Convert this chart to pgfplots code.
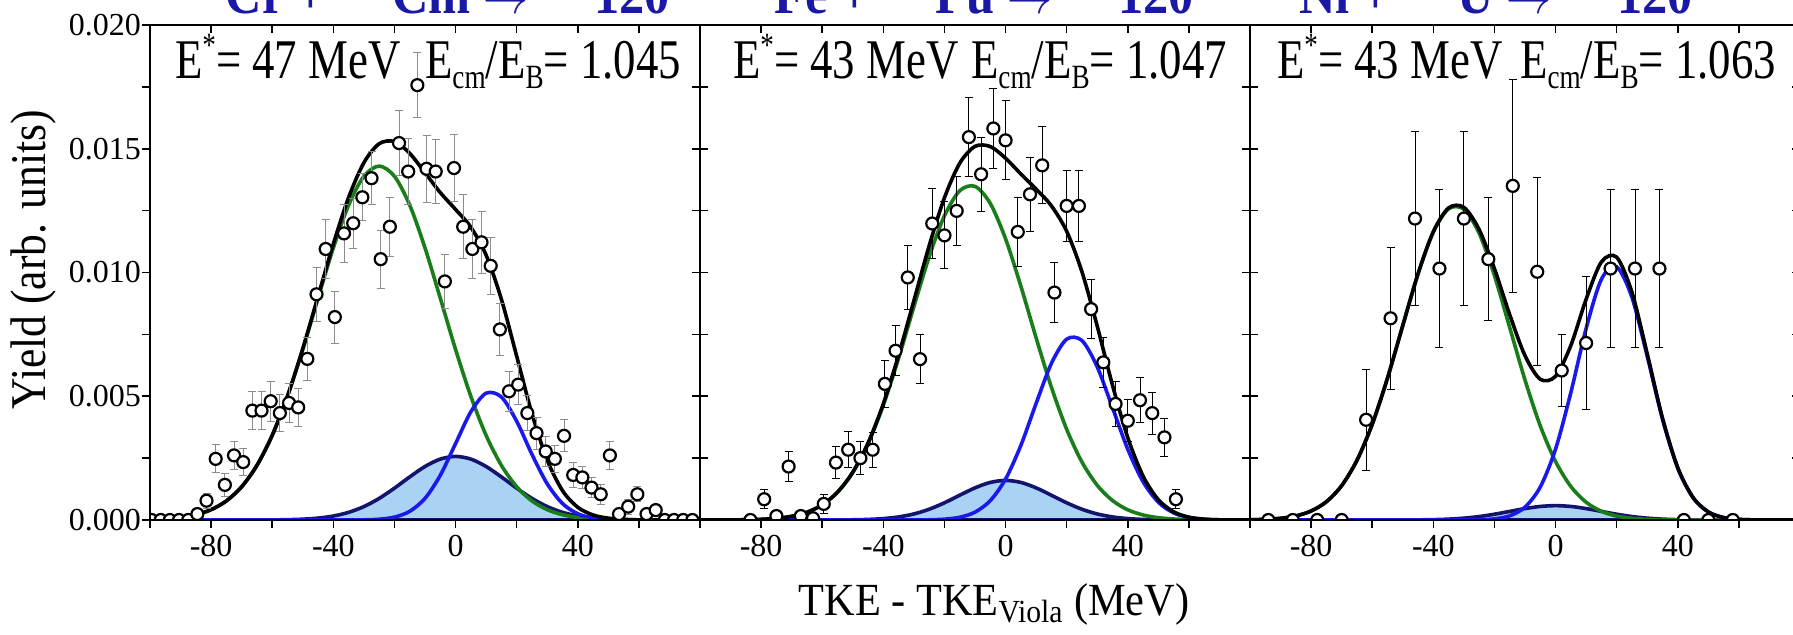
\documentclass[border=0pt]{standalone}
\usepackage{fontspec}
\setmainfont{Liberation Serif}
\usepackage{graphicx}
\usepackage{pgfplots}
\pgfplotsset{compat=1.18}
\definecolor{cgreen}{RGB}{25,125,25}
\definecolor{cblue}{RGB}{25,25,235}
\definecolor{cnavy}{RGB}{20,20,110}
\definecolor{cfill}{RGB}{170,210,245}
\definecolor{ctitle}{RGB}{25,25,165}
\newcommand{\sq}[1]{\scalebox{0.8}[1]{#1}}
\newcommand{\sqt}[1]{\scalebox{0.9}[1]{#1}}
\newcommand{\sbs}[1]{\raisebox{-5pt}{\fontsize{17pt}{17pt}\selectfont #1}}
\newcommand{\sps}[1]{\raisebox{11pt}{\fontsize{17pt}{17pt}\selectfont #1}}
\pgfplotsset{
  base/.style={width=275pt,height=247.5pt,scale only axis,xmin=-100,xmax=80,ymin=0,ymax=0.02,
    axis line style={line width=1pt},
    xtick={-80,-40,0,40}, minor xtick={-100,-60,-20,20,60},
    ytick={0,0.005,0.01,0.015,0.02}, minor ytick={0.0025,0.0075,0.0125,0.0175},
    major tick length=4pt, minor tick length=4pt,
    every tick/.style={black, line width=0.8pt},
    scaled y ticks=false, anchor=south west,
    tick label style={font=\fontsize{16pt}{19pt}\selectfont},
  },
  main/.style={base, tick align=outside, xtick pos=left, xticklabels={-80,-40,0,40}, clip marker paths=true,
    yticklabel style={xshift=3pt}},
  over/.style={base, tick align=inside, xtick pos=right, xticklabels={}, yticklabels={},
    tick label style={opacity=0, text opacity=0}},
  dat/.style={only marks, mark=*, mark size=3pt, mark options={fill=white, draw=black, line width=1.1pt},
     error bars/.cd, y dir=both, y explicit, error bar style={line width=0.5pt,#1},
     error mark options={rotate=90, mark size=2pt, line width=0.5pt, #1}},
  cur/.style={smooth, line width=1.8pt, #1},
}
\tikzset{ann/.style={font=\fontsize{28pt}{31pt}\selectfont},
  ttl/.style={anchor=base east, text=ctitle, font=\bfseries\fontsize{28pt}{31pt}\selectfont}}
\begin{document}
\begin{tikzpicture}
\useasboundingbox (0,0) rectangle (896.5pt,317pt);
% ---------------- panel 1
\begin{axis}[main, at={(75pt,57pt)}, ytick pos=left, yticklabels={0.000,0.005,0.010,0.015,0.020}]
\addplot[cur=cnavy, fill=cfill] coordinates {(-100,0) (-65,0.000002) (-60,0.000005) (-55,0.000014) (-50,0.000034) (-45,0.000077) (-40,0.000161) (-35,0.000309) (-30,0.000542) (-25,0.000872) (-20,0.001287) (-15,0.001741) (-10,0.002162) (-5,0.002461) (0,0.00257) (5,0.002461) (10,0.002162) (15,0.001741) (20,0.001287) (25,0.000872) (30,0.000542) (35,0.000309) (40,0.000161) (45,0.000077) (50,0.000034) (55,0.000014) (60,0.000005) (65,0.000002) (80,0)} \closedcycle;
\addplot[cur=cgreen] coordinates {(-100,0.00002) (-95,0.000047) (-90,0.000102) (-85,0.000213) (-80,0.000418) (-75,0.000771) (-70,0.001343) (-65,0.002207) (-60,0.003418) (-55,0.004998) (-50,0.006891) (-45,0.008963) (-40,0.010995) (-35,0.012724) (-30,0.013888) (-25,0.0143) (-20,0.013888) (-15,0.012724) (-10,0.010995) (-5,0.008963) (0,0.006891) (5,0.004998) (10,0.003418) (15,0.002207) (20,0.001343) (25,0.000771) (30,0.000418) (35,0.000213) (40,0.000102) (45,0.000047) (50,0.00002) (55,0.000008) (60,0) (80,0)};
\addplot[cur=cblue] coordinates {(-100,0) (-40,0) (-35,0.000001) (-30,0.000007) (-25,0.000032) (-20,0.000116) (-15,0.00035) (-10,0.000873) (-5,0.001805) (0,0.003087) (5,0.004372) (10,0.005124) (15,0.004971) (20,0.003992) (25,0.002654) (30,0.001461) (35,0.000665) (40,0.000251) (45,0.000078) (50,0.00002) (55,0.000004) (60,0) (80,0)};
\addplot[cur=black] coordinates {(-100,0.00002) (-95,0.000047) (-90,0.000102) (-85,0.000213) (-80,0.000418) (-75,0.000771) (-70,0.001343) (-65,0.002209) (-60,0.003423) (-55,0.005012) (-50,0.006925) (-45,0.00904) (-40,0.011156) (-35,0.013033) (-30,0.014437) (-25,0.015204) (-20,0.015291) (-15,0.014815) (-10,0.01403) (-5,0.013229) (0,0.012548) (5,0.011831) (10,0.010704) (15,0.008919) (20,0.006622) (25,0.004297) (30,0.002421) (35,0.001187) (40,0.000514) (45,0.000202) (50,0.000074) (55,0.000026) (60,0.000006) (65,0) (80,0)};
\addplot[dat=black!45] table[x=x,y=y,y error=e] {
x y e
-99.5 0 0
-96.5 0 0
-93.5 0 0
-90.5 0 0
-87.5 0 0
-84.5 0.00024 0.0002
-81.5 0.00078 0.0003
-78.5 0.00247 0.00057
-75.5 0.00142 0.00045
-72.5 0.00261 0.00057
-69.5 0.00234 0.00055
-66.5 0.00442 0.00076
-63.5 0.00442 0.00076
-60.5 0.0048 0.0008
-57.5 0.00432 0.00075
-54.5 0.00473 0.0008
-51.5 0.00455 0.00078
-48.5 0.00651 0.00088
-45.5 0.00912 0.00108
-42.5 0.01095 0.0012
-39.5 0.0082 0.00105
-36.5 0.01158 0.00116
-33.5 0.01199 0.001
-30.5 0.01304 0.00095
-27.5 0.01381 0.00108
-24.5 0.01054 0.00117
-21.5 0.01185 0.0012
-18.5 0.01523 0.0013
-15.5 0.01408 0.00135
-12.5 0.01757 0.0013
-9.5 0.01419 0.00135
-6.5 0.01408 0.0013
-3.5 0.00964 0.0011
-0.5 0.01422 0.00135
2.5 0.01185 0.0013
5.5 0.01095 0.0012
8.5 0.01122 0.00125
11.5 0.01027 0.00115
14.5 0.0077 0.00105
17.5 0.0052 0.0008
20.5 0.00547 0.0008
23.5 0.00432 0.0007
26.5 0.00351 0.00065
29.5 0.00277 0.0006
32.5 0.00247 0.00055
35.5 0.0034 0.00065
38.5 0.00182 0.0005
41.5 0.00172 0.00045
44.5 0.00131 0.0004
47.5 0.00104 0.0004
50.5 0.00261 0.00057
53.5 0.00024 0.0002
56.5 0.00054 0.0003
59.5 0.00104 0.0003
62.5 0.00024 0.0002
65.5 0.0004 0.0002
68.5 0 0
71.5 0 0
74.5 0 0
77.5 0 0
};
\end{axis}
\begin{axis}[over, at={(75pt,57pt)}, ytick pos=right]
\end{axis}
% ---------------- panel 2
\begin{axis}[main, at={(350pt,57pt)}, ymajorticks=false, yminorticks=false]
\addplot[cur=cnavy, fill=cfill] coordinates {(-100,0) (-60,0) (-55,0.000003) (-50,0.000009) (-45,0.000024) (-40,0.000057) (-35,0.000125) (-30,0.000245) (-25,0.000435) (-20,0.000695) (-15,0.001001) (-10,0.001299) (-5,0.001519) (0,0.0016) (5,0.001519) (10,0.001299) (15,0.001001) (20,0.000695) (25,0.000435) (30,0.000245) (35,0.000125) (40,0.000057) (45,0.000024) (50,0.000009) (55,0.000003) (60,0) (80,0)} \closedcycle;
\addplot[cur=cgreen] coordinates {(-100,0) (-95,0.000001) (-90,0.000004) (-85,0.000011) (-80,0.000028) (-75,0.000067) (-70,0.00015) (-65,0.000313) (-60,0.000612) (-55,0.001121) (-50,0.001923) (-45,0.003088) (-40,0.004643) (-35,0.006538) (-30,0.008618) (-25,0.010638) (-20,0.012294) (-15,0.013304) (-10,0.01348) (-5,0.012789) (0,0.011361) (5,0.009449) (10,0.007359) (15,0.005366) (20,0.003664) (25,0.002343) (30,0.001402) (35,0.000786) (40,0.000412) (45,0.000203) (50,0.000093) (55,0.00004) (60,0.000016) (65,0.000006) (70,0) (80,0)};
\addplot[cur=cblue] coordinates {(-100,0) (-40,0) (-30,0.000002) (-25,0.0000085) (-20,0.000033) (-15,0.000111) (-10,0.000317) (-5,0.000782) (0,0.001656) (5,0.003012) (10,0.00471) (15,0.006327) (20,0.007307) (25,0.007252) (30,0.006185) (35,0.004534) (40,0.002857) (45,0.001546) (50,0.000719) (55,0.000288) (60,0.000099) (65,0.000029) (70,0.000007) (75,0) (80,0)};
\addplot[cur=black] coordinates {(-100,0) (-95,0.000001) (-90,0.000004) (-85,0.000011) (-80,0.000028) (-75,0.000067) (-70,0.00015) (-65,0.000313) (-60,0.000612) (-55,0.001124) (-50,0.001932) (-45,0.003112) (-40,0.0047) (-35,0.006663) (-30,0.008865) (-25,0.011082) (-20,0.013022) (-15,0.014416) (-10,0.015096) (-5,0.01509) (0,0.014617) (5,0.01398) (10,0.013368) (15,0.012694) (20,0.011666) (25,0.01003) (30,0.007832) (35,0.005445) (40,0.003326) (45,0.001773) (50,0.000821) (55,0.000331) (60,0.000115) (65,0.000035) (70,0.000007) (75,0) (80,0)};
\addplot[dat=black] table[x=x,y=y,y error=e] {
x y e
-83.5 0 0
-79 0.00084 0.00038
-75 0.00016 0.0002
-71 0.00216 0.00062
-67 0.00016 0.0002
-63 0.00007 0.0001
-59.5 0.00065 0.00037
-55.5 0.00232 0.00063
-51.5 0.00284 0.00072
-47.5 0.0025 0.00068
-43.5 0.00284 0.0007
-39.5 0.0055 0.00095
-36 0.00684 0.001
-32 0.0098 0.0013
-28 0.0065 0.001
-24 0.01198 0.0014
-20 0.0115 0.00135
-16 0.01249 0.0014
-12 0.01547 0.0016
-8 0.01397 0.0015
-4 0.01582 0.0016
0 0.01534 0.0016
4 0.01164 0.0014
8 0.01316 0.0015
12 0.01433 0.00155
16 0.00919 0.00123
20 0.01269 0.00145
24 0.01269 0.00145
28 0.00852 0.0012
32 0.00637 0.001
36 0.00469 0.00092
40 0.00401 0.00085
44 0.00484 0.00092
48 0.00432 0.00085
52 0.00334 0.00076
55.75 0.00084 0.00038
};
\end{axis}
\begin{axis}[over, at={(350pt,57pt)}, ytick pos=both]
\end{axis}
% ---------------- panel 3
\begin{axis}[main, at={(625pt,57pt)}, ymajorticks=false, yminorticks=false]
\addplot[cur=cnavy, fill=cfill] coordinates {(-100,0) (-50,0) (-45,0.000006) (-40,0.000015) (-35,0.000036) (-30,0.000075) (-25,0.00014) (-20,0.000234) (-15,0.000348) (-10,0.000462) (-5,0.000548) (0,0.00058) (5,0.000548) (10,0.000462) (15,0.000348) (20,0.000234) (25,0.00014) (30,0.000075) (35,0.000036) (40,0.000015) (45,0.000006) (50,0) (80,0)} \closedcycle;
\addplot[cur=cgreen] coordinates {(-100,0.0000095) (-95,0.000027) (-90,0.000069) (-85,0.000165) (-80,0.000363) (-75,0.000738) (-70,0.001388) (-65,0.002411) (-60,0.003869) (-55,0.005736) (-50,0.00786) (-45,0.009949) (-40,0.011637) (-35,0.012575) (-30,0.012555) (-25,0.011582) (-20,0.009871) (-15,0.007774) (-10,0.005656) (-5,0.003802) (0,0.002361) (5,0.001355) (10,0.000718) (15,0.000352) (20,0.000159) (25,0.000067) (30,0.000026) (35,0.000009) (40,0) (80,0)};
\addplot[cur=cblue] coordinates {(-100,0) (-35,0) (-30,0.000002) (-25,0.0000106) (-20,0.000046) (-15,0.00017) (-10,0.00052) (-5,0.001335) (0,0.002867) (5,0.005151) (10,0.00774) (15,0.009727) (20,0.010226) (25,0.008993) (30,0.006614) (35,0.00407) (40,0.002094) (45,0.000902) (50,0.000325) (55,0.000098) (60,0.000025) (65,0.000005) (70,0) (80,0)};
\addplot[cur=black] coordinates {(-100,0.0000095) (-95,0.000027) (-90,0.000069) (-85,0.000165) (-80,0.000363) (-75,0.000738) (-70,0.001388) (-65,0.002411) (-60,0.003869) (-55,0.005736) (-50,0.00786) (-45,0.009955) (-40,0.011652) (-35,0.012611) (-30,0.012632) (-25,0.011733) (-20,0.010151) (-15,0.008292) (-10,0.006638) (-5,0.005685) (0,0.005808) (5,0.007054) (10,0.00892) (15,0.010427) (20,0.010619) (25,0.0092) (30,0.006715) (35,0.004115) (40,0.002109) (45,0.000908) (50,0.000325) (55,0.000098) (60,0.000025) (65,0.000005) (70,0) (80,0)};
\addplot[dat=black] table[x=x,y=y,y error=e] {
x y e
-94 0 0
-86 0 0
-78 0 0
-70 0 0
-62 0.00405 0.00204
-54 0.00815 0.00288
-46 0.01218 0.00352
-38 0.01016 0.00319
-30 0.01218 0.00352
-22 0.01054 0.00249
-14 0.0135 0.0043
-6 0.01003 0.0038
2 0.00604 0.00145
10 0.00715 0.0027
18 0.01016 0.00319
26 0.01016 0.00319
34 0.01016 0.00319
42 0 0
50 0 0
58 0 0
};
\end{axis}
\begin{axis}[over, at={(625pt,57pt)}, ytick pos=both]
\end{axis}
% ---------------- texts
\node[ann, anchor=base west] at (84pt,278pt) {\sq{E\sps{*}= 47 MeV}};
\node[ann, anchor=base east] at (344pt,278pt) {\sq{E\sbs{cm}/E\sbs{B}= 1.045}};
\node[ann, anchor=base west] at (363pt,278pt) {\sq{E\sps{*}= 43 MeV}};
\node[ann, anchor=base east] at (617pt,278pt) {\sq{E\sbs{cm}/E\sbs{B}= 1.047}};
\node[ann, anchor=base west] at (635pt,278pt) {\sq{E\sps{*}= 43 MeV}};
\node[ann, anchor=base east] at (891.5pt,278pt) {\sq{E\sbs{cm}/E\sbs{B}= 1.063}};
\node[rotate=90, anchor=base, font=\fontsize{25pt}{28pt}\selectfont] at (22.5pt,187pt) {\scalebox{0.87}[1]{Yield (arb. units)}};
\node[anchor=base, font=\fontsize{23pt}{26pt}\selectfont] at (497pt,9.5pt) {\scalebox{0.92}[1]{TKE - TKE\textsubscript{Viola} (MeV)}};
\node[ttl] at (338.5pt,310.5pt) {\sqt{\textsuperscript{54}Cr + \textsuperscript{248}Cm $\rightarrow$ \textsuperscript{302}120}};
\node[ttl] at (600.5pt,310.5pt) {\sqt{\textsuperscript{58}Fe + \textsuperscript{244}Pu $\rightarrow$ \textsuperscript{302}120}};
\node[ttl] at (850pt,310.5pt) {\sqt{\textsuperscript{64}Ni + \textsuperscript{238}U $\rightarrow$ \textsuperscript{302}120}};
\end{tikzpicture}
\end{document}
